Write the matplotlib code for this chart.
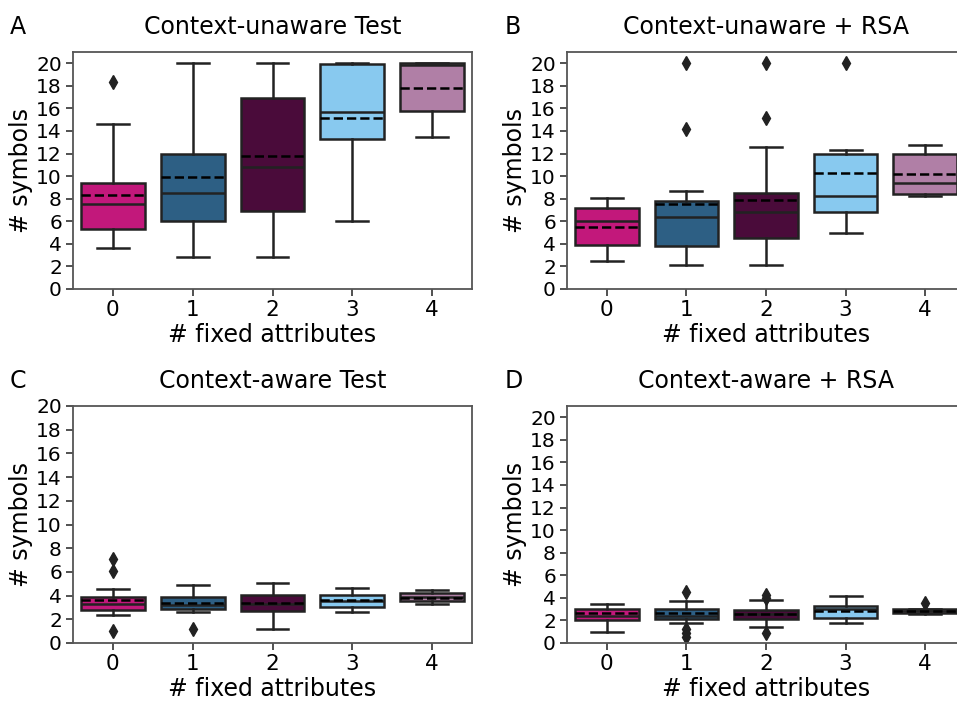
import matplotlib
matplotlib.use("Agg")
import matplotlib.pyplot as plt

# ── Values (box stats per panel) ─────────────────────────────────────────────
N_FIXED = [0, 1, 2, 3, 4]
COLORS = ["#c2187b", "#2d5f84", "#4a0b3a", "#88c9ef", "#b07fa6"]

# A: Context-unaware Test
a_whislo = [3.66, 2.83, 2.86, 6.02, 13.51]
a_q1     = [5.31, 5.99, 6.93, 13.33, 15.81]
a_med    = [7.52, 8.55, 10.77, 15.66, 19.85]
a_mean   = [8.32, 9.88, 11.80, 15.19, 17.82]
a_q3     = [9.41, 12.00, 16.93, 19.95, 20.00]
a_whishi = [14.63, 20.00, 20.00, 20.00, 20.00]
a_fliers = [[18.38], [], [], [], []]

# B: Context-unaware + RSA
b_whislo = [2.51, 2.15, 2.15, 4.93, 8.23]
b_q1     = [3.92, 3.78, 4.54, 6.84, 8.38]
b_med    = [5.99, 6.37, 6.84, 8.26, 9.38]
b_mean   = [5.46, 7.52, 7.88, 10.30, 10.21]
b_q3     = [7.14, 7.82, 8.53, 12.00, 12.00]
b_whishi = [8.08, 8.70, 12.60, 12.36, 12.74]
b_fliers = [[], [14.16, 20.0], [15.16, 20.0], [20.0], []]

# C: Context-aware Test
c_whislo = [2.35, 2.60, 1.16, 2.60, 3.25]
c_q1     = [2.80, 2.85, 2.74, 3.08, 3.53]
c_med    = [3.28, 3.20, 3.31, 3.56, 3.87]
c_mean   = [3.64, 3.40, 3.35, 3.60, 3.80]
c_q3     = [3.92, 3.87, 4.01, 4.01, 4.18]
c_whishi = [4.55, 4.92, 5.06, 4.66, 4.49]
c_fliers = [[1.0, 6.11, 7.13], [1.2], [], [], []]

# D: Context-aware + RSA
d_whislo = [0.98, 1.75, 1.45, 1.75, 2.60]
d_q1     = [2.07, 2.13, 2.16, 2.25, 2.65]
d_med    = [2.43, 2.43, 2.55, 2.99, 2.85]
d_mean   = [2.64, 2.64, 2.60, 2.80, 2.85]
d_q3     = [2.99, 2.99, 2.93, 3.29, 2.97]
d_whishi = [3.47, 3.76, 3.82, 4.18, 3.00]
d_fliers = [[], [0.5, 0.9, 1.2, 4.5], [0.92, 4.0, 4.27], [], [3.53]]

PANELS = [
    ("A", "Context-unaware Test", a_whislo, a_q1, a_med, a_mean, a_q3, a_whishi, a_fliers, 21),
    ("B", "Context-unaware + RSA", b_whislo, b_q1, b_med, b_mean, b_q3, b_whishi, b_fliers, 21),
    ("C", "Context-aware Test", c_whislo, c_q1, c_med, c_mean, c_q3, c_whishi, c_fliers, 20),
    ("D", "Context-aware + RSA", d_whislo, d_q1, d_med, d_mean, d_q3, d_whishi, d_fliers, 21),
]

# axes rectangles in figure fraction (left, bottom, width, height)
W, H = 957, 703
RECTS = [
    (73 / W, 1 - 289 / H, 399 / W, 237 / H),
    (567 / W, 1 - 289 / H, 398 / W, 237 / H),
    (73 / W, 1 - 643 / H, 399 / W, 237 / H),
    (567 / W, 1 - 643 / H, 398 / W, 237 / H),
]

plt.rcParams.update({
    "font.family": "DejaVu Sans",
    "axes.edgecolor": "#555555",
    "axes.linewidth": 1.3,
})

LINE = "#222222"

fig = plt.figure(figsize=(W / 100, H / 100), dpi=100)

for (letter, title, lo, q1, med, mean, q3, hi, fl, ytop), rect in zip(PANELS, RECTS):
    ax = fig.add_axes(rect)
    stats = []
    for i in range(len(N_FIXED)):
        stats.append(dict(whislo=lo[i], q1=q1[i], med=med[i], mean=mean[i],
                          q3=q3[i], whishi=hi[i], fliers=fl[i]))
    bp = ax.bxp(stats, positions=N_FIXED, widths=0.8, patch_artist=True,
                showmeans=True, meanline=True,
                boxprops=dict(edgecolor=LINE, linewidth=1.8),
                medianprops=dict(color=LINE, linewidth=1.8),
                meanprops=dict(color="black", linestyle="--", linewidth=1.8),
                whiskerprops=dict(color=LINE, linewidth=1.8),
                capprops=dict(color=LINE, linewidth=1.8),
                flierprops=dict(marker="d", markerfacecolor=LINE,
                                markeredgecolor=LINE, markersize=7))
    for patch, col in zip(bp["boxes"], COLORS):
        patch.set_facecolor(col)

    ax.set_xlim(-0.5, 4.5)
    ax.set_ylim(0, ytop)
    ax.set_yticks(range(0, 21, 2))
    ax.set_xticks(N_FIXED)
    ax.set_xticklabels([str(n) for n in N_FIXED])
    ax.tick_params(length=5, width=1.2, color="#333333", pad=3)
    ax.tick_params(axis="y", labelsize=14.5)
    ax.tick_params(axis="x", labelsize=15.5)
    ax.set_xlabel("# fixed attributes", fontsize=17, labelpad=2)
    ax.set_ylabel("# symbols", fontsize=17, labelpad=2)
    ax.set_title(title, fontsize=17, pad=13)

    # panel letter at top-left of each panel
    x_letter = 10 / W if rect[0] < 0.5 else 505 / W
    fig.text(x_letter, rect[1] + rect[3] + 18 / H, letter, fontsize=17,
             va="baseline", ha="left")

plt.savefig("out.png", dpi=100)
